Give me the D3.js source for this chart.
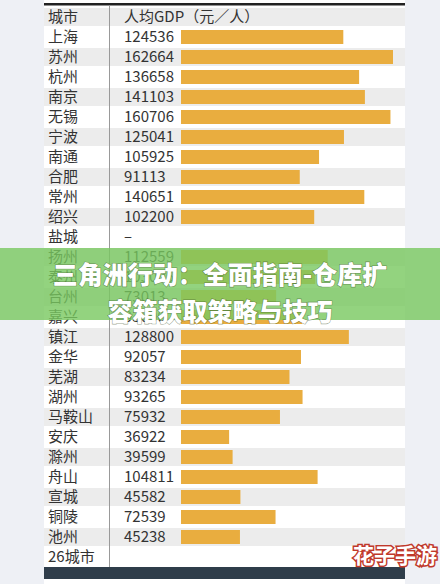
<!DOCTYPE html><html><head><meta charset="utf-8"><script src="https://d3js.org/d3.v7.min.js"></script>
<style>body{margin:0;background:#eef0f5}svg{display:block}</style></head><body><svg id="c" width="440" height="584"></svg>
<script>
const cities=["上海","苏州","杭州","南京","无锡","宁波","南通","合肥","常州","绍兴","盐城","扬州","泰州","台州","嘉兴","镇江","金华","芜湖","湖州","马鞍山","安庆","滁州","舟山","宣城","铜陵","池州"];
const gdp=[124536,162664,136658,141103,160706,125041,105925,91113,140651,102200,null,112559,103005,73013,93000,128800,92057,83234,93265,75932,36922,39599,104811,45582,72539,45238];
const headers=["城市","人均GDP（元／人）"];
const footer="26城市";
const svg=d3.select("#c");
const F="'Noto Sans CJK SC','Noto Sans',sans-serif";
const rows=["__h",...cities,"__f"];
const y=d3.scaleBand().domain(rows.map((d,i)=>i)).range([7,567]);
const x=d3.scaleLinear().domain([0,162664]).range([181,393]);
svg.append("rect").attr("x",44).attr("y",0).attr("width",361).attr("height",584).attr("fill","#fff");
svg.append("rect").attr("x",44).attr("y",3).attr("width",361).attr("height",2.5).attr("fill","#222");
rows.forEach((r,i)=>{if(i%2===0&&i<27)svg.append("rect").attr("x",44).attr("y",y(i)+1).attr("width",361).attr("height",y.bandwidth()-2).attr("fill","#ececec");});
svg.append("line").attr("x1",109.5).attr("x2",109.5).attr("y1",5).attr("y2",567).attr("stroke","#999");
const t=(s,xx,yy,opt={})=>svg.append("text").attr("x",xx).attr("y",yy).attr("dy","0.35em").attr("font-family",F).attr("font-size",opt.fs||15).attr("fill",opt.fill||"#333").text(s);
t(headers[0],48,y(0)+10);t(headers[1],124,y(0)+10);
cities.forEach((c,i)=>{const yy=y(i+1)+10;t(c,48,yy);
 t(gdp[i]==null?"–":gdp[i],124,yy);
 if(gdp[i]!=null)svg.append("rect").attr("x",x(0)).attr("y",yy-7).attr("width",x(gdp[i])-x(0)).attr("height",14).attr("fill","#e9ad3f");});
t(footer,48,y(27)+10);
svg.append("rect").attr("x",44).attr("y",567).attr("width",361).attr("height",12).attr("fill","#2f3d4a");
svg.append("rect").attr("x",0).attr("y",248).attr("width",440).attr("height",72).attr("fill","rgba(120,200,95,0.8)");
[["三角洲行动：全面指南-仓库扩",275],["容箱获取策略与技巧",312]].forEach(([s,yy])=>svg.append("text").attr("x",220).attr("y",yy).attr("dy","0.35em").attr("text-anchor","middle").attr("font-family",F).attr("font-weight","900").attr("font-size",25).attr("fill","#fff").attr("stroke","rgba(60,80,40,0.5)").attr("stroke-width",1.2).attr("paint-order","stroke").text(s));
svg.append("text").attr("x",395).attr("y",563).attr("text-anchor","middle").attr("font-family",F).attr("font-weight","bold").attr("font-size",21).attr("fill","#fff").attr("stroke","#c0392b").attr("stroke-width",3).attr("paint-order","stroke").text("花子手游");
</script></body></html>
